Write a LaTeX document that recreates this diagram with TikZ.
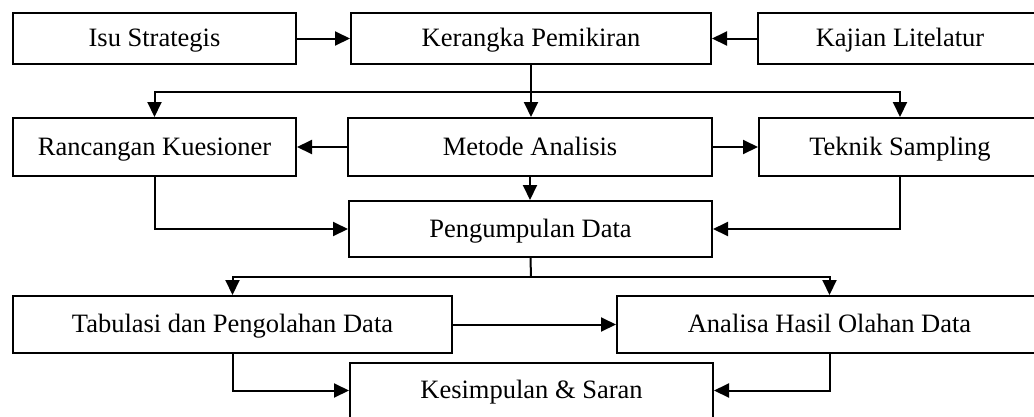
\documentclass[tikz,border=0pt]{standalone}
\usepackage{fontspec}
\setmainfont{Liberation Serif}
\usetikzlibrary{arrows.meta}
\begin{document}
\begin{tikzpicture}[x=1pt,y=-1pt,
  box/.style={draw,line width=2pt,rectangle,inner sep=0pt,text height=20pt,text depth=4pt,font=\fontsize{26.5}{30}\selectfont},
  arr/.style={line width=2pt,-{Triangle[length=15pt,width=14pt]}},
  ln/.style={line width=2pt}]
\useasboundingbox (0,0) rectangle (1034,416);
\clip (0,0) rectangle (1034,416);
\fill[white] (0,0) rectangle (1034,416);
% row 1
\node[box,minimum width=283pt,minimum height=51pt] (isu) at (154.5,38.5) {Isu Strategis};
\node[box,minimum width=360pt,minimum height=51pt] (ker) at (531,38.5) {Kerangka Pemikiran};
\node[box,minimum width=284pt,minimum height=51pt] (kaj) at (900,38.5) {Kajian Litelatur};
% row 2
\node[box,minimum width=283pt,minimum height=58pt] (ran) at (154.5,147) {Rancangan Kuesioner};
\node[box,minimum width=364pt,minimum height=58pt] (met) at (530,147) {Metode Analisis};
\node[box,minimum width=282pt,minimum height=58pt] (tek) at (900,147) {Teknik Sampling};
% row 3
\node[box,minimum width=363pt,minimum height=56pt] (pen) at (530.5,229) {Pengumpulan Data};
% row 4
\node[box,minimum width=439pt,minimum height=57pt] (tab) at (232.5,324.5) {Tabulasi dan Pengolahan Data};
\node[box,minimum width=425pt,minimum height=57pt] (ana) at (829.5,324.5) {Analisa Hasil Olahan Data};
% row 5
\node[box,minimum width=363pt,minimum height=55pt] (kes) at (531.5,390.5) {Kesimpulan \& Saran};
% connectors
\draw[arr] (isu) -- (ker);
\draw[arr] (kaj) -- (ker);
\coordinate (b1) at (531,92);
\draw[arr] (ker.south) -- (ker.south |- met.north);
\draw[arr] (b1) -| (ran.north);
\draw[arr] (b1) -| (tek.north);
\draw[arr] (met) -- (ran);
\draw[arr] (met) -- (tek);
\draw[arr] (met.south) -- (met.south |- pen.north);
\draw[arr] (ran.south) |- (pen.west);
\draw[arr] (tek.south) |- (pen.east);
\coordinate (b2) at (531,277);
\draw[ln] (pen.south) -- (b2);
\draw[arr] (b2) -| (tab.north);
\draw[arr] (b2) -| (ana.north);
\draw[arr] (tab) -- (ana);
\draw[arr] (tab.south) |- (kes.west);
\draw[arr] (ana.south) |- (kes.east);
\end{tikzpicture}
\end{document}
